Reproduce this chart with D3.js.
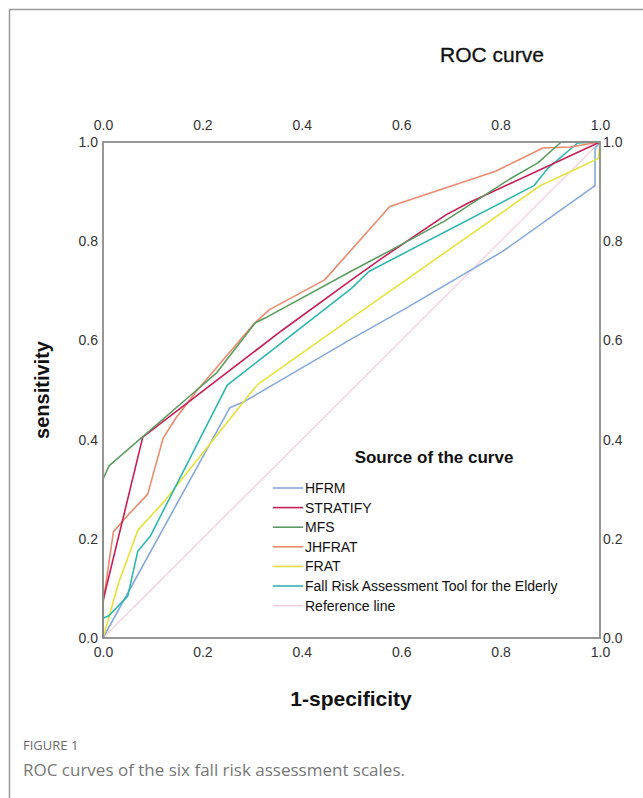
<!DOCTYPE html>
<html>
<head>
<meta charset="utf-8">
<script src="https://cdn.jsdelivr.net/npm/d3@7"></script>
<style>
  body { margin: 0; background: #fff; }
  svg { display: block; }
</style>
</head>
<body>
<svg width="643" height="798"></svg>
<script>
// tick labels, both axes
const ticks = [0, 0.2, 0.4, 0.6, 0.8, 1.0];

// curves as [1-specificity, sensitivity]
const hfrm = [[0, 0], [0.255, 0.464], [0.285, 0.477], [0.5, 0.603], [0.61, 0.665], [0.805, 0.78], [0.99, 0.912], [0.99, 0.987], [1, 1]];
const stratify = [[0, 0], [0, 0.075], [0.08, 0.405], [0.36, 0.62], [0.5, 0.722], [0.56, 0.765], [0.69, 0.853], [0.735, 0.877], [1, 1]];
const mfs = [[0, 0], [0, 0.32], [0.012, 0.347], [0.184, 0.496], [0.228, 0.534], [0.306, 0.635], [0.326, 0.645], [0.5, 0.74], [0.587, 0.786], [0.688, 0.841], [0.821, 0.927], [0.875, 0.958], [0.922, 1], [1, 1]];
const jhfrat = [[0, 0], [0, 0.07], [0.021, 0.214], [0.045, 0.242], [0.09, 0.29], [0.121, 0.403], [0.147, 0.444], [0.19, 0.5], [0.305, 0.635], [0.335, 0.662], [0.446, 0.722], [0.577, 0.87], [0.79, 0.941], [0.885, 0.988], [0.94, 0.99], [1, 1]];
const frat = [[0, 0], [0.031, 0.11], [0.07, 0.217], [0.09, 0.239], [0.122, 0.274], [0.305, 0.504], [0.315, 0.514], [0.5, 0.645], [0.88, 0.912], [0.94, 0.94], [0.997, 0.967], [1, 1]];
const frate = [[0, 0], [0, 0.04], [0.012, 0.045], [0.05, 0.085], [0.07, 0.175], [0.095, 0.205], [0.25, 0.51], [0.5, 0.705], [0.535, 0.739], [0.867, 0.912], [0.896, 0.948], [0.955, 0.998], [1, 1]];
const reference = [[0, 0], [1, 1]];

const names = ['HFRM', 'STRATIFY', 'MFS', 'JHFRAT', 'FRAT', 'Fall Risk Assessment Tool for the Elderly', 'Reference line'];
const curves = [hfrm, stratify, mfs, jhfrat, frat, frate, reference];
const colors = ['#86a9dc', '#c81e55', '#5c9c60', '#ec8a6e', '#e6e23a', '#2db7ae', '#f2cde0'];

const svg = d3.select('svg');
const margin = { top: 142, left: 103 };
const width = 497;
const height = 496;

// outer figure frame (only top and left edges show)
svg.append('path')
  .attr('d', 'M9.5,798 V9.5 H643')
  .attr('fill', 'none')
  .attr('stroke', '#9a9a9a')
  .attr('stroke-width', 1.5);

svg.append('text')
  .attr('x', 492)
  .attr('y', 62)
  .attr('text-anchor', 'middle')
  .attr('font-family', 'Liberation Sans, Arial, sans-serif')
  .attr('font-size', 21)
  .attr('stroke', '#111')
  .attr('stroke-width', 0.3)
  .attr('fill', '#111')
  .text('ROC curve');

const g = svg.append('g')
  .attr('transform', `translate(${margin.left},${margin.top})`);

const x = d3.scaleLinear().domain([0, 1]).range([0, width]);
const y = d3.scaleLinear().domain([0, 1]).range([height, 0]);

const fmt = d3.format('.1f');
const axisFont = sel => {
  sel.select('.domain').remove();
  sel.selectAll('text')
    .attr('font-family', 'Liberation Sans, Arial, sans-serif')
    .attr('font-size', 14)
    .attr('fill', '#333');
};

g.append('g')
  .call(d3.axisTop(x).tickValues(ticks).tickFormat(fmt).tickSize(0).tickPadding(12))
  .call(axisFont);
g.append('g')
  .attr('transform', `translate(0,${height})`)
  .call(d3.axisBottom(x).tickValues(ticks).tickFormat(fmt).tickSize(0).tickPadding(9))
  .call(axisFont);
g.append('g')
  .call(d3.axisLeft(y).tickValues(ticks).tickFormat(fmt).tickSize(0).tickPadding(5))
  .call(axisFont);
g.append('g')
  .attr('transform', `translate(${width},0)`)
  .call(d3.axisRight(y).tickValues(ticks).tickFormat(fmt).tickSize(0).tickPadding(3))
  .call(axisFont);

const line = d3.line().x(d => x(d[0])).y(d => y(d[1]));

// reference line first, underneath
const order = [6, 0, 4, 5, 3, 1, 2];
g.append('g')
  .selectAll('path')
  .data(order)
  .enter()
  .append('path')
  .attr('d', i => line(curves[i]))
  .attr('fill', 'none')
  .attr('stroke', i => colors[i])
  .attr('stroke-width', i => (i === 6 ? 1.2 : 1.6))
  .attr('stroke-linejoin', 'round');

// plot frame
g.append('rect')
  .attr('width', width)
  .attr('height', height)
  .attr('fill', 'none')
  .attr('stroke', '#8c8c8c')
  .attr('stroke-width', 1.8);

// legend
const legend = svg.append('g');
legend.append('text')
  .attr('x', 434)
  .attr('y', 463)
  .attr('text-anchor', 'middle')
  .attr('font-family', 'Liberation Sans, Arial, sans-serif')
  .attr('font-weight', 'bold')
  .attr('font-size', 17)
  .attr('fill', '#111')
  .text('Source of the curve');

const item = legend.selectAll('g.item')
  .data(names)
  .enter()
  .append('g')
  .attr('class', 'item')
  .attr('transform', (d, i) => `translate(0,${488 + i * 19.6})`);
item.append('line')
  .attr('x1', 273)
  .attr('x2', 303)
  .attr('stroke', (d, i) => colors[i])
  .attr('stroke-width', 1.6);
item.append('text')
  .attr('x', 305)
  .attr('dy', '0.36em')
  .attr('font-family', 'Liberation Sans, Arial, sans-serif')
  .attr('font-size', 14)
  .attr('fill', '#111')
  .text(d => d);

// axis titles
svg.append('text')
  .attr('transform', 'translate(49,390) rotate(-90)')
  .attr('text-anchor', 'middle')
  .attr('font-family', 'Liberation Sans, Arial, sans-serif')
  .attr('font-weight', 'bold')
  .attr('font-size', 20)
  .attr('fill', '#111')
  .text('sensitivity');
svg.append('text')
  .attr('x', 351)
  .attr('y', 706)
  .attr('text-anchor', 'middle')
  .attr('font-family', 'Liberation Sans, Arial, sans-serif')
  .attr('font-weight', 'bold')
  .attr('font-size', 21)
  .attr('fill', '#111')
  .text('1-specificity');

// caption
svg.append('text')
  .attr('x', 23)
  .attr('y', 750)
  .attr('font-family', 'Open Sans, sans-serif')
  .attr('font-size', 13)
  .attr('fill', '#6a6a6a')
  .text('FIGURE 1');
svg.append('text')
  .attr('x', 23)
  .attr('y', 776)
  .attr('font-family', 'Open Sans, sans-serif')
  .attr('font-size', 17)
  .attr('fill', '#777')
  .text('ROC curves of the six fall risk assessment scales.');
</script>
</body>
</html>
